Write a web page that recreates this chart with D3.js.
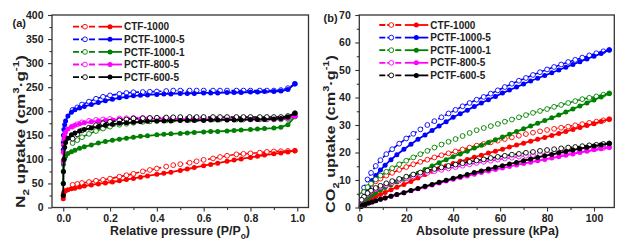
<!DOCTYPE html>
<html>
<head>
<meta charset="utf-8">
<script src="https://cdn.jsdelivr.net/npm/d3@7"></script>
<style>
  body { margin: 0; background: #fff; }
  svg { display: block; font-family: 'Liberation Sans', Arial, sans-serif; }
</style>
</head>
<body>
<div id="chart"></div>
<script>
const seriesNames = ['CTF-1000', 'PCTF-1000-5', 'PCTF-1000-1', 'PCTF-800-5', 'PCTF-600-5']
const seriesColors = ['#ff0000', '#0000ff', '#008000', '#ff00ff', '#000000']

// (a) N2 isotherms, relative pressure P/Po
const n2AdsPressure = [0.0001, 0.0004, 0.001, 0.003, 0.006, 0.01, 0.02, 0.035, 0.05, 0.07, 0.09, 0.12, 0.15, 0.18, 0.21, 0.24, 0.27, 0.3, 0.33, 0.36, 0.4, 0.43, 0.46, 0.5, 0.53, 0.56, 0.6, 0.63, 0.66, 0.7, 0.73, 0.76, 0.8, 0.83, 0.86, 0.9, 0.93, 0.96, 0.99]
const n2DesPressure = [0.99, 0.96, 0.93, 0.9, 0.87, 0.84, 0.8, 0.77, 0.74, 0.7, 0.67, 0.64, 0.6, 0.57, 0.54, 0.5, 0.47, 0.44, 0.4, 0.37, 0.34, 0.3, 0.27, 0.24, 0.2, 0.17, 0.14, 0.11, 0.08, 0.06, 0.04]

const n2AdsCTF1000 = [18, 24, 29, 32, 34, 35, 37, 39, 40, 42.5, 44.5, 47, 49, 51, 53, 55.5, 58, 60.5, 63, 65.5, 69, 71, 73.5, 77, 80, 83, 87, 89.5, 92, 96, 98.5, 101, 104, 106.5, 109, 111.5, 113.5, 115.5, 118]
const n2AdsPCTF10005 = [120, 135, 150, 162, 172, 180, 190, 198, 203, 207, 210, 214, 218, 222, 225, 228, 230, 232, 233, 234, 235, 236, 236, 237, 237, 237, 238, 238, 238, 239, 239, 239, 240, 240, 241, 241, 242, 245, 257]
const n2AdsPCTF10001 = [50, 75, 90, 98, 103, 107, 112, 116, 119, 123, 126, 130, 134, 137, 140, 142, 144, 146, 148, 149, 151, 152, 153, 154, 155, 156, 157, 158, 158, 159, 160, 161, 162, 163, 164, 165, 167, 172, 189]
const n2AdsPCTF8005 = [95, 115, 130, 142, 150, 157, 163, 168, 171, 174, 176, 178, 180, 181, 182, 183, 183, 184, 184, 184, 184, 184, 184, 184, 183, 183, 183, 183, 183, 183, 183, 183, 183, 183, 183, 183, 184, 186, 190]
const n2AdsPCTF6005 = [25, 50, 75, 100, 125, 135, 144, 151, 155, 159, 162, 165, 168, 171, 173, 175, 176, 177, 178, 179, 180, 180, 180, 181, 181, 181, 181, 182, 182, 182, 182, 182, 183, 183, 183, 184, 185, 188, 196]

const n2DesCTF1000 = [118, 117.5, 117, 116.5, 115.5, 114, 112.5, 111.5, 110.5, 107.5, 105, 102, 99, 96, 93, 90, 88, 85, 81, 78, 75, 70, 67, 64, 60, 57.5, 55.5, 53, 51, 49, 47]
const n2DesPCTF10005 = [257, 248, 244, 243, 243, 243, 243, 243, 243, 243, 243, 243, 243, 243, 243, 243, 243, 242, 241, 240.5, 240, 239.5, 238, 236, 233, 230, 226, 220, 214, 208, 203]
const n2DesPCTF10001 = [189, 184, 183, 183, 183, 183, 183, 183, 183, 183, 183, 183, 183, 183, 182.5, 182, 182, 181, 180, 179, 178, 176, 174, 172, 168, 164, 159, 153, 146, 140, 134]
const n2DesPCTF8005 = [190, 186, 186, 186, 186, 186, 186, 186, 186, 186, 186, 186, 186, 186, 186, 186, 186, 186, 186, 186, 186, 186, 185.5, 185, 184, 183, 182, 180, 177, 173, 168]
const n2DesPCTF6005 = [196, 190, 188, 188, 188, 188, 188, 188, 188, 188, 188, 188, 188, 188, 188, 188, 187.5, 187, 186.5, 186, 185.5, 185, 183, 181, 178, 175, 171, 166, 160, 152, 143]

// (b) CO2 isotherms, absolute pressure in kPa
const co2AdsPressure = [0.8, 1.5, 2.5, 4, 5.5, 7, 9, 11, 13.5, 16, 19, 22, 25, 28, 31, 34, 37, 40, 43, 46, 49, 52, 55, 58, 61, 64, 67, 70, 73, 76, 79, 82, 85, 88, 91, 94, 97, 100, 103, 106.5]
const co2DesPressure = [106.5, 104, 101, 98, 95, 92, 89, 86, 83, 80, 77, 74, 71, 68, 65, 62, 59, 56, 53, 50, 47, 44, 41, 38, 35, 32, 29, 26, 23, 20, 17, 14, 11.5, 9, 7, 5, 3.5, 2, 1]

const co2AdsCTF1000 = [0.7, 1.3, 1.9, 2.7, 3.4, 4, 4.7, 5.5, 6.5, 7.4, 8.4, 9.5, 10.7, 12, 13.2, 14.2, 15.1, 16, 16.8, 17.5, 18.3, 19, 19.8, 20.5, 21.2, 22, 22.7, 23.4, 24.1, 24.8, 25.5, 26.2, 26.9, 27.6, 28.4, 29.1, 29.8, 30.5, 31.3, 32.1]
const co2AdsPCTF10005 = [1.8, 3, 4.8, 7.5, 9.8, 11.6, 13.6, 15.4, 17.4, 19.2, 21.2, 23, 24.8, 26.4, 28, 29.6, 31.2, 32.8, 34.1, 35.4, 36.7, 38, 39.2, 40.4, 41.6, 42.7, 43.8, 44.9, 46, 47, 48, 49, 50, 51, 52, 53, 54, 55, 56, 57.3]
const co2AdsPCTF10001 = [0.9, 1.7, 2.6, 3.7, 4.6, 5.4, 6.4, 7.3, 8.3, 9.3, 10.3, 11.4, 12.5, 13.8, 15.1, 16.3, 17.4, 18.5, 19.5, 20.5, 21.6, 22.6, 23.6, 24.6, 25.6, 26.6, 27.6, 28.6, 29.6, 30.6, 31.6, 32.6, 33.6, 34.7, 35.8, 36.9, 38, 39.1, 40.2, 41.5]
const co2AdsPCTF8005 = [0.4, 0.8, 1.1, 1.6, 2, 2.5, 3, 3.5, 4.1, 4.7, 5.4, 6.1, 6.8, 7.5, 8.2, 8.9, 9.6, 10.3, 10.9, 11.5, 12.1, 12.7, 13.3, 13.8, 14.4, 14.9, 15.5, 16, 16.5, 17, 17.5, 18, 18.5, 19, 19.5, 20, 20.5, 21, 21.4, 21.9]
const co2AdsPCTF6005 = [0.4, 0.8, 1.1, 1.6, 2, 2.5, 3, 3.5, 4.1, 4.7, 5.4, 6.2, 6.9, 7.7, 8.4, 9.2, 9.9, 10.6, 11.3, 12, 12.7, 13.3, 14, 14.6, 15.2, 15.8, 16.4, 17, 17.6, 18.2, 18.8, 19.3, 19.9, 20.4, 20.9, 21.4, 21.9, 22.4, 22.8, 23.3]

const co2DesCTF1000 = [32.1, 31.7, 31.2, 30.8, 30.3, 29.9, 29.4, 29, 28.6, 28.2, 27.7, 27.2, 26.7, 26.1, 25.5, 24.9, 24.3, 23.7, 23.1, 22.5, 21.8, 21.1, 20.4, 19.7, 19, 18.2, 17.4, 16.6, 15.7, 14.7, 13.7, 12.6, 11.6, 10.5, 9.5, 8.3, 7.2, 5.8, 4.4]
const co2DesPCTF10005 = [57.3, 56.8, 56.1, 55.3, 54.5, 53.7, 52.9, 52, 51.1, 50.2, 49.2, 48.2, 47.1, 46.1, 45, 43.8, 42.6, 41.4, 40.2, 39.2, 38, 36.8, 35.5, 34.2, 32.8, 31.4, 30, 28.4, 26.8, 25.1, 23.2, 21.2, 19.4, 17.2, 15.1, 12.6, 10.2, 7.2, 4.5]
const co2DesPCTF10001 = [41.5, 41, 40.4, 39.9, 39.4, 38.7, 38, 37.3, 36.6, 35.8, 35.1, 34.4, 33.6, 32.8, 32, 31.2, 30.4, 29.6, 28.9, 28.1, 27.1, 26, 24.9, 23.9, 22.9, 21.8, 20.6, 19.4, 18.2, 17, 15.7, 14.3, 13, 11.6, 10.2, 8.7, 7.4, 5.6, 4.3]
const co2DesPCTF8005 = [21.9, 21.7, 21.5, 21.2, 21, 20.7, 20.5, 20.2, 20, 19.7, 19.4, 19.1, 18.8, 18.5, 18.1, 17.8, 17.4, 17, 16.6, 16.2, 15.7, 15.2, 14.7, 14.2, 13.7, 13.2, 12.6, 12, 11.3, 10.6, 9.8, 9, 8.2, 7.4, 6.6, 5.7, 4.8, 3.6, 2.6]
const co2DesPCTF6005 = [23.3, 23.1, 22.8, 22.6, 22.3, 22, 21.8, 21.5, 21.2, 20.9, 20.6, 20.2, 19.9, 19.5, 19.2, 18.8, 18.4, 18, 17.5, 17.1, 16.6, 16.1, 15.6, 15.1, 14.6, 14, 13.4, 12.7, 12, 11.2, 10.4, 9.6, 8.8, 7.9, 7.1, 6.1, 5.2, 3.9, 2.8]

// axis ticks
const n2XTicks = [0, 0.2, 0.4, 0.6, 0.8, 1.0]
const n2XMinorTicks = [0.1, 0.3, 0.5, 0.7, 0.9]
const n2YTicks = [0, 50, 100, 150, 200, 250, 300, 350, 400]
const n2YMinorTicks = [25, 75, 125, 175, 225, 275, 325, 375]
const co2XTicks = [0, 20, 40, 60, 80, 100]
const co2XMinorTicks = [10, 30, 50, 70, 90]
const co2YTicks = [0, 10, 20, 30, 40, 50, 60, 70]
const co2YMinorTicks = [5, 15, 25, 35, 45, 55, 65]

const width = 627
const height = 249

function buildSeries(adsX, desX, adsList, desList) {
  return seriesNames.map((name, i) => ({
    name,
    color: seriesColors[i],
    ads: adsX.map((x, j) => ({ x, y: adsList[i][j] })),
    des: desX.map((x, j) => ({ x, y: desList[i][j] })),
  }))
}

const n2Series = buildSeries(
  n2AdsPressure,
  n2DesPressure,
  [n2AdsCTF1000, n2AdsPCTF10005, n2AdsPCTF10001, n2AdsPCTF8005, n2AdsPCTF6005],
  [n2DesCTF1000, n2DesPCTF10005, n2DesPCTF10001, n2DesPCTF8005, n2DesPCTF6005],
)
const co2Series = buildSeries(
  co2AdsPressure,
  co2DesPressure,
  [co2AdsCTF1000, co2AdsPCTF10005, co2AdsPCTF10001, co2AdsPCTF8005, co2AdsPCTF6005],
  [co2DesCTF1000, co2DesPCTF10005, co2DesPCTF10001, co2DesPCTF8005, co2DesPCTF6005],
)

const svg = d3
  .select('#chart')
  .append('svg')
  .attr('width', width)
  .attr('height', height)

svg.append('rect').attr('width', width).attr('height', height).attr('fill', '#fff')

// text with sub/superscript parts: [text, 'sub' | 'sup' | undefined]
function richText(sel, parts, size) {
  let shift = 0
  parts.forEach(([t, kind]) => {
    const target = kind === 'sub' ? size * 0.3 : kind === 'sup' ? -size * 0.42 : 0
    sel
      .append('tspan')
      .attr('dy', target - shift)
      .attr('font-size', kind ? size * 0.68 : size)
      .text(t)
    shift = target
  })
}

// squeeze/stretch a title horizontally (in its own frame) to a measured length
function fitTitle(textSel, baseTransform, targetLength) {
  const w = textSel.node().getBBox().width
  textSel.attr('transform', `${baseTransform} scale(${targetLength / w}, 1)`)
}

function renderPanel({
  frame: { left, right, top, bottom },
  xDomain,
  yDomain,
  xTicks,
  xMinorTicks,
  yTicks,
  yMinorTicks,
  xFormat,
  series,
  legendX,
  legendY,
  label,
  xTitle,
  yTitle,
}) {
  const xScale = d3.scaleLinear().domain(xDomain).range([left, right])
  const yScale = d3.scaleLinear().domain(yDomain).range([bottom, top])
  const panel = svg.append('g')

  const line = d3
    .line()
    .x(d => xScale(d.x))
    .y(d => yScale(d.y))

  series.forEach(s => {
    const g = panel.append('g')
    // desorption: dashed line, open circles
    g.append('path')
      .attr('d', line(s.des))
      .attr('fill', 'none')
      .attr('stroke', s.color)
      .attr('stroke-width', 1.6)
      .attr('stroke-dasharray', '5 2.5')
    g.selectAll('circle.des')
      .data(s.des)
      .join('circle')
      .attr('class', 'des')
      .attr('cx', d => xScale(d.x))
      .attr('cy', d => yScale(d.y))
      .attr('r', 2.4)
      .attr('fill', '#fff')
      .attr('stroke', s.color)
      .attr('stroke-width', 0.9)
    // adsorption: solid line, filled circles
    g.append('path')
      .attr('d', line(s.ads))
      .attr('fill', 'none')
      .attr('stroke', s.color)
      .attr('stroke-width', 1.8)
    g.selectAll('circle.ads')
      .data(s.ads)
      .join('circle')
      .attr('class', 'ads')
      .attr('cx', d => xScale(d.x))
      .attr('cy', d => yScale(d.y))
      .attr('r', 2.5)
      .attr('fill', s.color)
  })

  const styleAxis = g => {
    g.attr('font-family', "'Liberation Sans', Arial, sans-serif")
      .attr('font-size', 10.5)
      .attr('font-weight', 'bold')
    g.select('.domain').remove()
    g.selectAll('.tick line').attr('stroke', '#333').attr('stroke-width', 1.1)
    g.selectAll('.tick text').attr('fill', '#222')
  }

  panel
    .append('g')
    .attr('transform', `translate(0, ${bottom})`)
    .call(
      d3
        .axisBottom(xScale)
        .tickValues(xTicks)
        .tickSize(4)
        .tickSizeOuter(0)
        .tickPadding(3)
        .tickFormat(xFormat),
    )
    .call(styleAxis)

  panel
    .append('g')
    .attr('transform', `translate(0, ${bottom})`)
    .call(d3.axisBottom(xScale).tickValues(xMinorTicks).tickSize(2.5).tickFormat(''))
    .call(styleAxis)

  panel
    .append('g')
    .attr('transform', `translate(${left}, 0)`)
    .call(
      d3
        .axisLeft(yScale)
        .tickValues(yTicks)
        .tickSize(4)
        .tickSizeOuter(0)
        .tickPadding(4.5),
    )
    .call(styleAxis)

  panel
    .append('g')
    .attr('transform', `translate(${left}, 0)`)
    .call(d3.axisLeft(yScale).tickValues(yMinorTicks).tickSize(2.5).tickFormat(''))
    .call(styleAxis)

  // frame
  panel
    .append('rect')
    .attr('x', left)
    .attr('y', top)
    .attr('width', right - left)
    .attr('height', bottom - top)
    .attr('fill', 'none')
    .attr('stroke', '#333')
    .attr('stroke-width', 1.3)

  // legend: dashed half with open circle, solid half with filled circle
  const legend = panel
    .selectAll('g.legend-row')
    .data(series)
    .join('g')
    .attr('class', 'legend-row')
    .attr('transform', (d, i) => `translate(${legendX}, ${legendY + i * 12.6})`)

  legend
    .append('line')
    .attr('x1', 0)
    .attr('x2', 24)
    .attr('stroke', d => d.color)
    .attr('stroke-width', 1.8)
    .attr('stroke-dasharray', '6 2')
  legend
    .append('line')
    .attr('x1', 25.5)
    .attr('x2', 49)
    .attr('stroke', d => d.color)
    .attr('stroke-width', 1.8)
  legend
    .append('circle')
    .attr('cx', 12)
    .attr('r', 2.4)
    .attr('fill', '#fff')
    .attr('stroke', d => d.color)
    .attr('stroke-width', 0.9)
  legend
    .append('circle')
    .attr('cx', 37)
    .attr('r', 2.5)
    .attr('fill', d => d.color)
  legend
    .append('text')
    .attr('x', 51)
    .attr('dy', '0.36em')
    .attr('font-size', 10)
    .attr('font-weight', 'bold')
    .attr('fill', '#222')
    .text(d => d.name)

  // panel label
  panel
    .append('text')
    .attr('x', label.x)
    .attr('y', label.y)
    .attr('font-size', 11)
    .attr('font-weight', 'bold')
    .attr('fill', '#222')
    .text(label.text)

  // x-axis title
  const xt = panel
    .append('text')
    .attr('text-anchor', 'middle')
    .attr('font-weight', 'bold')
    .attr('fill', '#222')
  richText(xt, xTitle.parts, 13.5)
  fitTitle(xt, `translate(${xTitle.x}, ${xTitle.y})`, xTitle.length)

  // y-axis title
  const yt = panel
    .append('text')
    .attr('text-anchor', 'middle')
    .attr('font-weight', 'bold')
    .attr('fill', '#222')
  richText(yt, yTitle.parts, 13.5)
  fitTitle(yt, `translate(${yTitle.x}, ${yTitle.y}) rotate(-90)`, yTitle.length)
}

renderPanel({
  frame: { left: 52, right: 308.5, top: 15, bottom: 207.5 },
  xDomain: [-0.048, 1.048],
  yDomain: [0, 400],
  xTicks: n2XTicks,
  xMinorTicks: n2XMinorTicks,
  yTicks: n2YTicks,
  yMinorTicks: n2YMinorTicks,
  xFormat: d3.format('.1f'),
  series: n2Series,
  legendX: 73,
  legendY: 26.7,
  label: { text: '(a)', x: 12.5, y: 27 },
  xTitle: {
    parts: [['Relative pressure (P/P'], ['o', 'sub'], [')']],
    x: 180,
    y: 235,
    length: 140,
  },
  yTitle: {
    parts: [['N'], ['2', 'sub'], [' uptake (cm'], ['3', 'sup'], ['·g'], ['-1', 'sup'], [')']],
    x: 24.5,
    y: 131.5,
    length: 153,
  },
})

renderPanel({
  frame: { left: 359.3, right: 614.3, top: 15, bottom: 207.5 },
  xDomain: [0, 108.65],
  yDomain: [0, 70],
  xTicks: co2XTicks,
  xMinorTicks: co2XMinorTicks,
  yTicks: co2YTicks,
  yMinorTicks: co2YMinorTicks,
  xFormat: d3.format('d'),
  series: co2Series,
  legendX: 379.3,
  legendY: 25,
  label: { text: '(b)', x: 323.5, y: 22 },
  xTitle: {
    parts: [['Absolute pressure (kPa)']],
    x: 487.5,
    y: 235,
    length: 143,
  },
  yTitle: {
    parts: [['CO'], ['2', 'sub'], [' uptake (cm'], ['3', 'sup'], ['·g'], ['-1', 'sup'], [')']],
    x: 335,
    y: 134,
    length: 158,
  },
})
</script>
</body>
</html>
